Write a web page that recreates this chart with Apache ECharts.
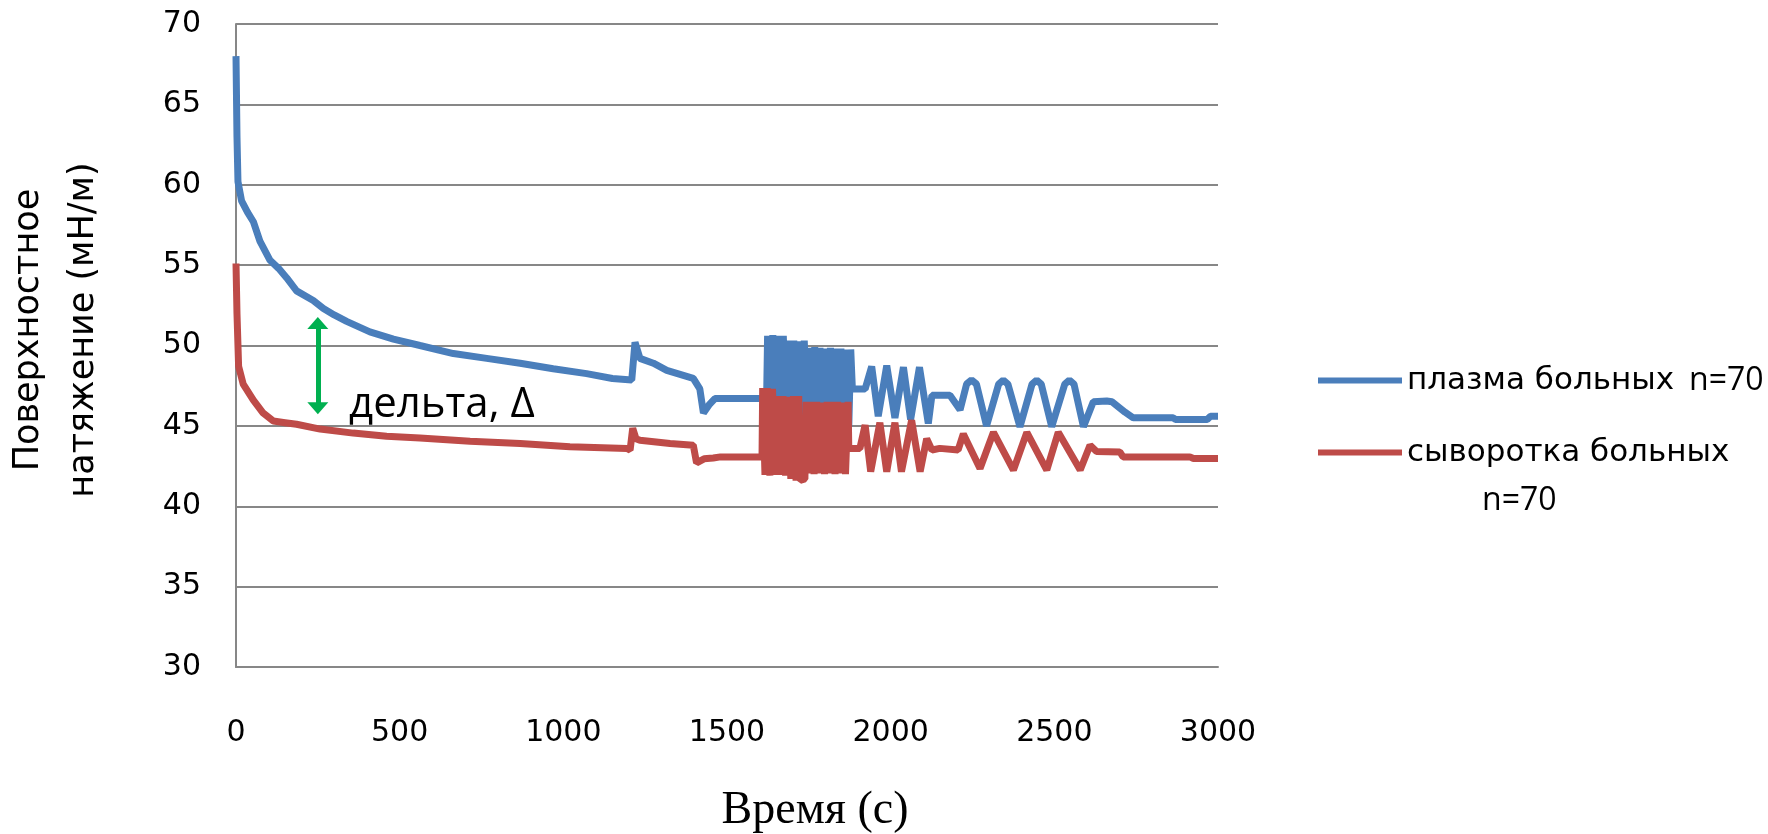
<!DOCTYPE html>
<html><head><meta charset="utf-8">
<script src="https://cdn.jsdelivr.net/npm/echarts@6/dist/echarts.min.js"></script>
<style>html,body{margin:0;padding:0;background:#fff}#c{width:1768px;height:834px}</style>
</head><body><div id="c"></div>
<script>
// ---- data ----
const seriesNames = ['плазма больных', 'сыворотка больных'];
const xTicks = [0, 500, 1000, 1500, 2000, 2500, 3000];
const yTicks = [30, 35, 40, 45, 50, 55, 60, 65, 70];

const plasmaTime = [0, 3, 6, 17, 35, 53, 73, 104, 130, 155, 185, 236, 267, 300, 338, 409, 481, 562, 664, 766, 868, 969, 1071, 1150, 1209, 1219, 1234, 1275, 1316, 1397, 1417, 1428, 1445, 1463, 1500, 1560, 1621,
  1624, 1632, 1640, 1648, 1656, 1664, 1672, 1680, 1688, 1696, 1704, 1712, 1720, 1728, 1736, 1744, 1752, 1760, 1768, 1776, 1784, 1792, 1800, 1808, 1816, 1824, 1832, 1840, 1848, 1856, 1864, 1872, 1878,
  1883, 1922, 1942, 1962, 1988, 2013, 2039, 2061, 2088, 2115, 2126, 2181, 2212, 2232, 2247, 2262, 2293, 2330, 2344, 2358, 2395, 2432, 2446, 2460, 2492, 2532, 2546, 2560, 2589, 2619, 2660, 2676, 2716, 2741, 2863, 2870, 2967, 2977, 3000];
const plasmaValue = [68.0, 63.0, 60.2, 59.0, 58.3, 57.7, 56.5, 55.3, 54.8, 54.2, 53.4, 52.8, 52.3, 51.9, 51.5, 50.85, 50.4, 50.0, 49.5, 49.2, 48.9, 48.55, 48.25, 47.95, 47.85, 50.2, 49.2, 48.9, 48.45, 47.95, 47.3, 45.8, 46.3, 46.7, 46.7, 46.7, 46.7,
  50.6, 45.7, 50.65, 45.8, 50.6, 45.7, 50.6, 45.8, 50.3, 45.7, 50.3, 45.8, 50.25, 45.65, 50.3, 45.7, 49.85, 45.6, 49.9, 45.7, 49.85, 45.6, 49.8, 45.5, 49.85, 45.4, 49.8, 45.3, 49.8, 45.1, 49.75, 44.95, 49.75,
  47.3, 47.3, 48.7, 45.6, 48.75, 45.5, 48.65, 45.4, 48.65, 45.15, 46.9, 46.9, 46.0, 47.6, 47.85, 47.6, 45.0, 47.6, 47.85, 47.6, 44.95, 47.6, 47.85, 47.6, 44.95, 47.6, 47.85, 47.6, 44.95, 46.5, 46.55, 46.5, 45.85, 45.5, 45.5, 45.4, 45.4, 45.6, 45.6];

const serumTime = [0, 3, 8, 22, 53, 83, 114, 150, 185, 257, 358, 460, 562, 715, 868, 1020, 1194, 1204, 1212, 1222, 1234, 1326, 1397, 1407, 1430, 1458, 1480, 1607,
  1609, 1616, 1623, 1631, 1639, 1647, 1655, 1663, 1671, 1679, 1687, 1695, 1703, 1711, 1719, 1723, 1738, 1742, 1750, 1758, 1766, 1774, 1782, 1790, 1798, 1806, 1814, 1822, 1830, 1838, 1846, 1854, 1862, 1870,
  1872, 1906, 1922, 1939, 1967, 1988, 2013, 2033, 2064, 2090, 2110, 2126, 2150, 2206, 2222, 2273, 2314, 2375, 2416, 2477, 2512, 2579, 2609, 2629, 2700, 2710, 2914, 2925, 3000];
const serumValue = [55.1, 52.0, 48.7, 47.6, 46.6, 45.8, 45.3, 45.2, 45.1, 44.8, 44.55, 44.35, 44.25, 44.05, 43.9, 43.7, 43.6, 43.5, 44.85, 44.2, 44.1, 43.9, 43.8, 42.7, 42.95, 43.0, 43.07, 43.07,
  47.35, 41.95, 47.35, 41.9, 47.3, 41.95, 46.85, 41.95, 46.85, 41.9, 46.8, 41.7, 46.85, 41.6, 46.85, 41.6, 41.7, 46.5, 42.05, 46.5, 42.0, 46.5, 42.05, 46.45, 42.0, 46.5, 42.05, 46.5, 42.0, 46.5, 42.05, 46.45, 42.0, 46.5,
  43.6, 43.6, 45.05, 42.15, 45.2, 42.15, 45.2, 42.15, 45.35, 42.15, 44.2, 43.5, 43.6, 43.5, 44.5, 42.35, 44.6, 42.25, 44.6, 42.25, 44.6, 42.25, 43.8, 43.4, 43.38, 43.07, 43.07, 42.97, 42.97];

// annotation: delta arrow between the curves
const deltaArrowX = 250;
const deltaArrowTop = 51.4;
const deltaArrowBottom = 46.1;

const plasmaData = plasmaTime.map((t, i) => [t, plasmaValue[i]]);
const serumData = serumTime.map((t, i) => [t, serumValue[i]]);

const gridColor = '#878787';
const tickFont = 'DejaVu Sans';

const chart = echarts.init(document.getElementById('c'), null, { renderer: 'canvas' });
chart.setOption({
  animation: false,
  backgroundColor: '#ffffff',
  grid: { left: 236, right: 550, top: 24, bottom: 167, containLabel: false },
  xAxis: {
    type: 'value',
    min: xTicks[0], max: xTicks[xTicks.length - 1], interval: xTicks[1] - xTicks[0],
    axisLine: { show: true, lineStyle: { color: gridColor, width: 2 } },
    axisTick: { show: false },
    splitLine: { show: false },
    axisLabel: { color: '#000', fontFamily: tickFont, fontSize: 30, margin: 51, formatter: v => String(v) }
  },
  yAxis: {
    type: 'value',
    min: yTicks[0], max: yTicks[yTicks.length - 1], interval: yTicks[1] - yTicks[0],
    axisLine: { show: true, lineStyle: { color: gridColor, width: 2 } },
    axisTick: { show: false },
    splitLine: { show: true, lineStyle: { color: gridColor, width: 2 } },
    axisLabel: { color: '#000', fontFamily: tickFont, fontSize: 30, margin: 35, formatter: v => String(v) }
  },
  legend: {
    orient: 'vertical',
    left: 1313, top: 360,
    itemWidth: 84, itemHeight: 6, itemGap: 41,
    icon: 'rect',
    textStyle: { color: '#000', fontFamily: tickFont, fontSize: 31 },
    data: seriesNames
  },
  series: [
    {
      name: seriesNames[0], type: 'line', data: plasmaData,
      showSymbol: false, symbol: 'none',
      color: '#4A7EBB',
      lineStyle: { color: '#4A7EBB', width: 7, join: 'bevel' },
      markLine: {
        silent: true, animation: false,
        symbol: ['triangle', 'triangle'], symbolSize: [21, 12],
        label: { show: false },
        lineStyle: { color: '#00B050', width: 5, type: 'solid' },
        itemStyle: { color: '#00B050' },
        emphasis: { disabled: true },
        data: [[{ coord: [deltaArrowX, deltaArrowTop] }, { coord: [deltaArrowX, deltaArrowBottom] }]]
      }
    },
    {
      name: seriesNames[1], type: 'line', data: serumData,
      showSymbol: false, symbol: 'none',
      color: '#BE4B48',
      lineStyle: { color: '#BE4B48', width: 7, join: 'bevel' }
    }
  ],
  graphic: [
    { type: 'text', x: 56, y: 330, rotation: Math.PI / 2,
      style: { text: 'Поверхностное\nнатяжение (мН/м)', fill: '#000', font: '35px "DejaVu Sans"', align: 'center', verticalAlign: 'middle', lineHeight: 55 } },
    { type: 'text', x: 815, y: 811,
      style: { text: 'Время (с)', fill: '#000', font: '46px "Liberation Serif"', align: 'center', verticalAlign: 'middle' } },
    { type: 'text', x: 349, y: 405,
      style: { text: 'дельта, Δ', fill: '#000', font: '42px "Open Sans"', align: 'left', verticalAlign: 'middle' } },
    { type: 'text', x: 1689, y: 381,
      style: { text: 'n=70', fill: '#000', font: '32px "Open Sans"', align: 'left', verticalAlign: 'middle' } },
    { type: 'text', x: 1482, y: 501,
      style: { text: 'n=70', fill: '#000', font: '32px "Open Sans"', align: 'left', verticalAlign: 'middle' } }
  ]
});
</script>
</body></html>
